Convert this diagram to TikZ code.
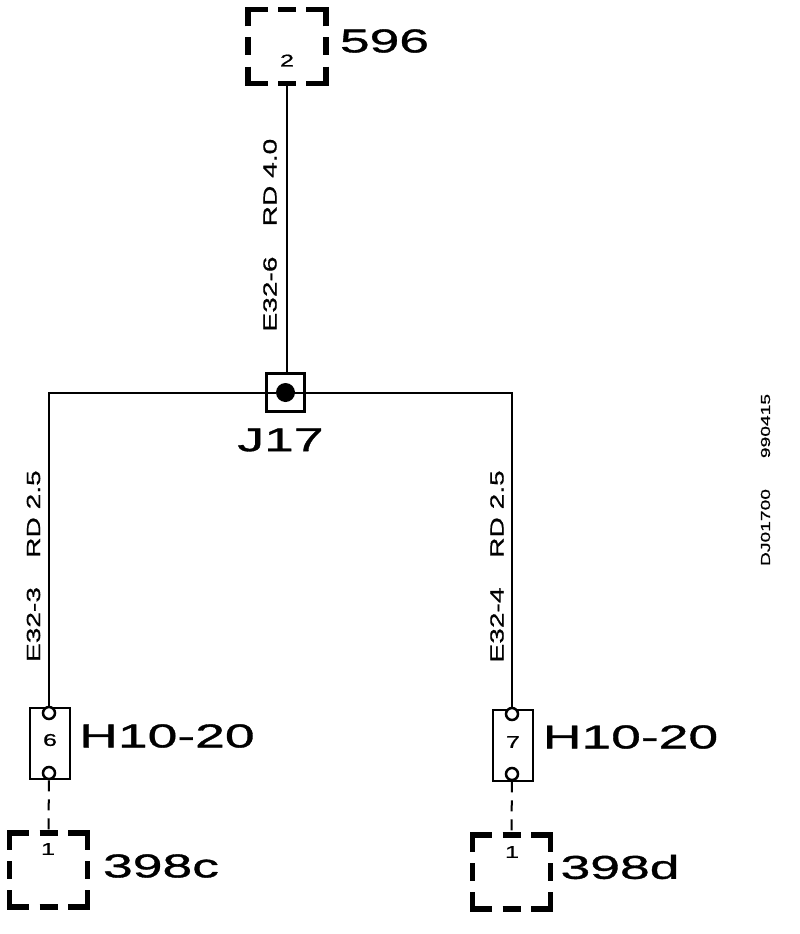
\documentclass[tikz,border=0pt]{standalone}
\usepackage{fontspec}
\usetikzlibrary{positioning, calc}
\newfontfamily\widefont[FakeStretch=1.62,FakeBold=1]{Liberation Sans}
\newfontfamily\thinfont[FakeStretch=1.48,FakeBold=0.8]{Liberation Sans}
\begin{document}
\begin{tikzpicture}[x=1pt, y=-1pt]
		\tikzstyle{termbox}=[draw=none, minimum width=78pt, minimum height=74pt, inner sep=0pt]
		\tikzstyle{termline}=[line width=5.5pt, line join=miter, line cap=butt]
		\tikzstyle{wire}=[line width=2pt, draw=black]
		\tikzstyle{plugbox}=[draw=black, line width=2pt, minimum width=40pt, minimum height=71pt, inner sep=0pt]
		\tikzstyle{pin}=[circle, draw=black, fill=white, line width=2.5pt, minimum size=12pt, inner sep=0pt]
		\tikzstyle{biglabel}=[inner sep=0pt, font=\widefont\fontsize{33}{33}\selectfont]
		\tikzstyle{pinlabel}=[inner sep=0pt, font=\thinfont\fontsize{17}{17}\selectfont]
		\tikzstyle{wirelabel}=[inner sep=0pt, rotate=90, font=\thinfont\fontsize{19}{19}\selectfont]
		\tikzstyle{codelabel}=[inner sep=0pt, rotate=90, font=\thinfont\fontsize{13}{13}\selectfont]
		
		\useasboundingbox (0,0) rectangle (800,934);
		\fill[white] (0,0) rectangle (800,934);
		
		%% terminals
		\node [termbox] (T2) at (287,46.5) {};
		\node [termbox] (T398c) at (48.5,870) {};
		\node [termbox] (T398d) at (511.5,872) {};
		\foreach \t in {T2,T398c,T398d} {
			\draw[termline] ($(\t.north west)+(0,17)$) |- ($(\t.north west)+(20,0)$);
			\draw[termline] ($(\t.north east)+(0,17)$) |- ($(\t.north east)+(-20,0)$);
			\draw[termline] ($(\t.south west)+(0,-17)$) |- ($(\t.south west)+(20,0)$);
			\draw[termline] ($(\t.south east)+(0,-17)$) |- ($(\t.south east)+(-20,0)$);
			\draw[termline] ($(\t.north)+(-9,0)$) -- ($(\t.north)+(9,0)$);
			\draw[termline] ($(\t.south)+(-9,0)$) -- ($(\t.south)+(9,0)$);
			\draw[termline] ($(\t.west)+(0,-9)$) -- ($(\t.west)+(0,9)$);
			\draw[termline] ($(\t.east)+(0,-9)$) -- ($(\t.east)+(0,9)$);
		}
		\node [biglabel] (L596) at (384.5,41) {596};
		\node [biglabel] (L398c) at (161,866) {398c};
		\node [biglabel] (L398d) at (620,867) {398d};
		\node [pinlabel] (N2) at (287,60.5) {2};
		\node [pinlabel] (N1c) at (48,849) {1};
		\node [pinlabel] (N1d) at (512,852) {1};
		
		%% splice
		\node [draw=black, line width=3pt, minimum size=38pt, inner sep=0pt] (J) at (285.5,392.5) {};
		\node [circle, fill=black, minimum size=19pt, inner sep=0pt] (Jdot) at (J.center) {};
		\node [biglabel] (LJ) at (280.5,440) {J17};
		
		%% plugs
		\node [plugbox] (H6) at (49.5,743) {};
		\node [plugbox] (H7) at (512.5,745) {};
		\node [pin] (H6a) at (49,713) {};
		\node [pin] (H6b) at (49,773) {};
		\node [pin] (H7a) at (512,714) {};
		\node [pin] (H7b) at (512,774) {};
		\node [pinlabel] (N6) at (50,740) {6};
		\node [pinlabel] (N7) at (513,742) {7};
		\node [biglabel] (LH6) at (167,736) {H10-20};
		\node [biglabel] (LH7) at (630.5,737) {H10-20};
		
		%% wires
		\draw[wire] (T2.south) -- (T2.south |- J.north);
		\draw[wire] (H6a) |- (Jdot);
		\draw[wire] (H7a) |- (Jdot);
		\draw[wire, dash pattern=on 11pt off 8pt] (H6b) -- (T398c.north);
		\draw[wire, dash pattern=on 11pt off 8pt] (H7b) -- (T398d.north);
		
		%% wire labels
		\node [wirelabel] (W1a) at (270,294) {E32-6};
		\node [wirelabel] (W1b) at (270,182.5) {RD 4.0};
		\node [wirelabel] (W2a) at (33.5,624.5) {E32-3};
		\node [wirelabel] (W2b) at (33.5,514) {RD 2.5};
		\node [wirelabel] (W3a) at (497,625) {E32-4};
		\node [wirelabel] (W3b) at (497,514) {RD 2.5};
		\node [codelabel] (C1) at (765.5,527.5) {DJ01700};
		\node [codelabel] (C2) at (765.5,426) {990415};
\end{tikzpicture}
\end{document}
